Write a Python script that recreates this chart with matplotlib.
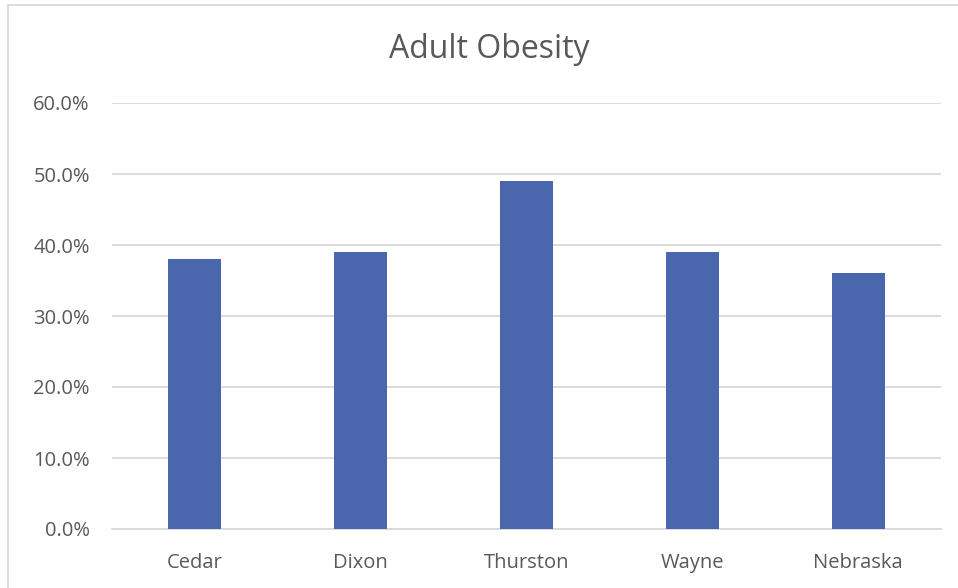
import matplotlib.pyplot as plt
from matplotlib.patches import Rectangle
from matplotlib.ticker import PercentFormatter

counties = ['Cedar', 'Dixon', 'Thurston', 'Wayne', 'Nebraska']
obesity_pct = [38.0, 39.0, 49.0, 39.0, 36.0]
y_ticks = [0, 10, 20, 30, 40, 50, 60]

plt.rcParams['font.family'] = ['Open Sans', 'DejaVu Sans']
text_color = '#595959'
grid_color = '#d9d9d9'

fig = plt.figure(figsize=(9.58, 5.88), dpi=100)
ax = fig.add_axes([112 / 958, 1 - 529 / 588, (941 - 112) / 958, (529 - 103) / 588])

x = range(len(counties))
ax.bar(x, obesity_pct, width=0.32, color='#4a66ac', zorder=3)

ax.set_xlim(-0.5, len(counties) - 0.5)
ax.set_ylim(0, 60)
ax.set_yticks(y_ticks)
ax.yaxis.set_major_formatter(PercentFormatter(decimals=1))
ax.set_xticks(list(x))
ax.set_xticklabels(counties)

ax.grid(axis='y', color=grid_color, linewidth=1.3, zorder=0)
for side in ['top', 'right', 'left']:
    ax.spines[side].set_visible(False)
ax.spines['bottom'].set_color(grid_color)
ax.spines['bottom'].set_linewidth(1.3)
ax.tick_params(axis='both', length=0, labelsize=14.5, colors=text_color)
ax.tick_params(axis='y', pad=16)
ax.tick_params(axis='x', pad=17)

fig.text(489 / 958, 1 - 50 / 588, 'Adult Obesity',
         ha='center', va='center', fontsize=23, color=text_color)

# chart frame
fig.add_artist(Rectangle((8 / 958, -0.05), 1.1, 1 - 5 / 588 + 0.05,
                         transform=fig.transFigure, fill=False,
                         edgecolor=grid_color, linewidth=1.3))

fig.savefig('out.png', dpi=100)
